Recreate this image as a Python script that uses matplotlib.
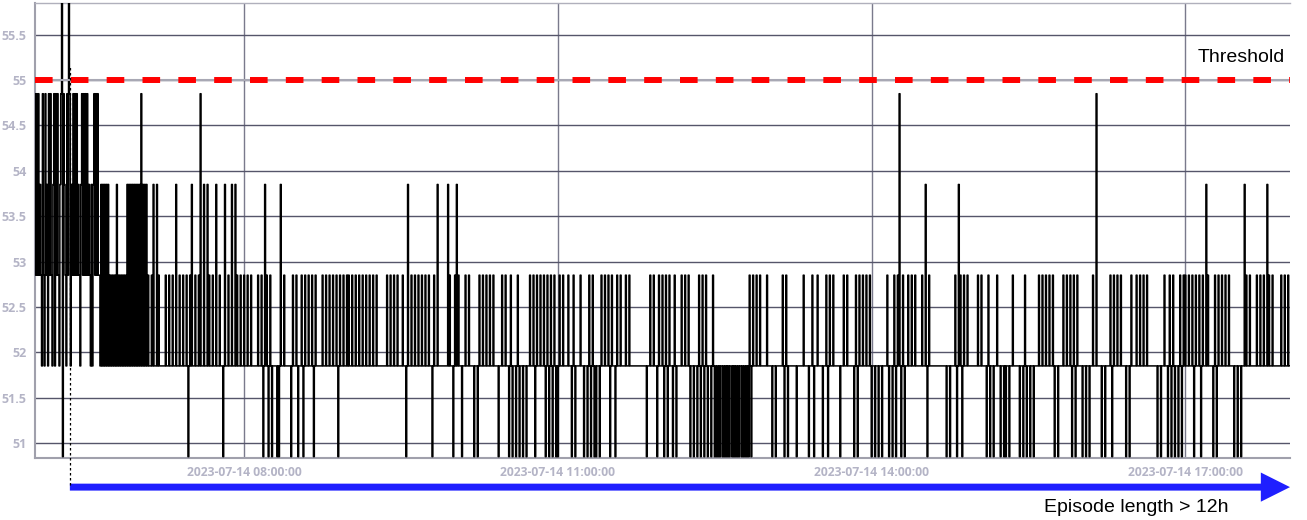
import datetime as dt
import matplotlib
matplotlib.use('Agg')
import matplotlib.pyplot as plt
import matplotlib.dates as mdates
import matplotlib.transforms as mtransforms
from matplotlib.patches import FancyArrowPatch, ArrowStyle

# sensor levels seen on the chart
levels = [50.85, 51.85, 52.85, 53.85, 54.85, 55.85]

# one row per hour starting 06:00, each char = level index (30 s steps)
hourly_levels = [
    # 06
    "424242" "32" "142142" "31" "4242" "13" "414242" "13" "4504" "32" "142541" "32"
    "424242" "3213" "42424242" "321313" "424242"
    "2131313131312121" "2121312121212121" "31313131313131",
    # 07
    "3141313131" "2111213111" "31211111112111211121" "11311121112111210121"
    "31112111214111311131" "21112111311121110131" "11211131113121112111",
    # 08
    "21112111211111112111" "21013121012101111101" "01311121111111012111"
    "21011121012111211121" "01211111112111211121" "11211121012111211121",
    # 09
    "21112111211121112111" "21112111211121111111" "11112111211121112111"
    "11211101311121112111" "21112111211121110121" "11311111111111312111",
    # 10
    "01213121110111211121" "11110111012111211121" "11211121111101112111"
    "21110121011101210111" "01110111211121012111" "21112101210121012101",
    # 11
    "01211121111121110121" "01111121110111012101" "21010111012111211121"
    "01211101211121111121" "11211111111111111111" "11011121112111012111",
    # 12
    "21012101211101210111" "11211121112101110111" "01210121012101110121"
    "0101010110" "1010101011" "0101010101" "1010101010" "21012111211121111111",
    # 13
    "21111101110111111121" "01210111111111011111" "11211111011121011121"
    "11110111210121112111" "11110111211121111111" "01210121112111211121",
    # 14
    "01110111011101111121" "01110121012141012101" "11211121112111111121"
    "11310121111111111111" "11111101110111112101" "31210121112111111111",
    # 15
    "11211121111101210111" "01112111011101011101" "11211111110111012101"
    "11011101111121112111" "21112111210111011111" "21112111210121012111",
    # 16
    "11011101110111211141" "11110111011111210121" "11211121111101110121"
    "11112111211121112111" "11111111011101112111" "01210121011101210121",
    # 17
    "21112111210121112101" "21113121111101210121" "11211121112111110111"
    "01110111312111211111" "11211121112111312111" "21111111112111211121",
]

day = dt.datetime(2023, 7, 14)
first_hour = 6
x_start = dt.datetime(2023, 7, 14, 6, 0)
x_end = dt.datetime(2023, 7, 14, 18, 0)
tick_hours = [8, 11, 14, 17]
y_ticks = [51, 51.5, 52, 52.5, 53, 53.5, 54, 54.5, 55, 55.5]
threshold = 55
episode_start = dt.datetime(2023, 7, 14, 6, 20)

times = []
values = []
for h, row in enumerate(hourly_levels):
    step = 60.0 / len(row)
    for j, c in enumerate(row):
        times.append(day + dt.timedelta(hours=first_hour + h, minutes=j * step))
        values.append(levels[int(c)])

W, H = 1307, 520
fig = plt.figure(figsize=(W / 100, H / 100), dpi=100)
ax = fig.add_axes([35 / W, 62 / H, 1255 / W, 455 / H])

ax.plot(times, values, color='black', lw=1.1, drawstyle='steps-mid', zorder=3)

ax.set_xlim(x_start, x_end)
ax.set_ylim(50.835, 55.85)
ax.set_yticks(y_ticks)
ax.set_yticklabels(['{:g}'.format(v) for v in y_ticks])
ax.set_xticks([day + dt.timedelta(hours=h) for h in tick_hours])
ax.xaxis.set_major_formatter(mdates.DateFormatter('%Y-%m-%d %H:%M:%S'))

ax.set_axisbelow(True)
ax.grid(axis='y', color='#55556a', lw=1.0)
ax.grid(axis='x', color='#7a7a8c', lw=1.0)

ax.tick_params(length=0, labelcolor='#b4b4c6')
ax.tick_params(axis='y', pad=6)
ax.tick_params(axis='x', pad=6)
for lab in ax.get_yticklabels():
    lab.set_fontfamily('Open Sans')
    lab.set_fontweight('bold')
    lab.set_fontsize(9)
for lab in ax.get_xticklabels():
    lab.set_fontfamily('Open Sans')
    lab.set_fontweight('bold')
    lab.set_fontsize(8.7)

ax.spines['right'].set_visible(False)
for side in ['left', 'bottom']:
    ax.spines[side].set_color('#a0a0ac')
    ax.spines[side].set_linewidth(1.5)
ax.spines['top'].set_color('#b0b0bc')
ax.spines['top'].set_linewidth(1.0)

# threshold line
ax.axhline(threshold, color='#a8a8b4', lw=1.5, zorder=4)
ax.axhline(threshold, color='#ff0000', lw=4.3, dashes=(2.95, 3.05), zorder=5)
ax.text(0.996, threshold + 0.25, 'Threshold',
        transform=mtransforms.blended_transform_factory(ax.transAxes, ax.transData),
        ha='right', va='center', fontsize=14, family='Liberation Sans')

# episode marker and arrow
ax.axvline(episode_start, ymin=-0.059, ymax=0.864, color='black', lw=0.9,
           ls=(0, (2, 2)), clip_on=False, zorder=6)
trans = mtransforms.blended_transform_factory(ax.transData, ax.transAxes)
arrow = FancyArrowPatch((mdates.date2num(episode_start), -0.064),
                        (mdates.date2num(x_end), -0.064),
                        transform=trans,
                        arrowstyle=ArrowStyle.Simple(head_length=2.1, head_width=2.1, tail_width=0.5),
                        mutation_scale=10, color='#1f1fff', lw=0,
                        shrinkA=0, shrinkB=0, clip_on=False)
ax.add_patch(arrow)
ax.text(0.9506, -0.108, 'Episode length > 12h', transform=ax.transAxes,
        ha='right', va='center', fontsize=14, family='Liberation Sans')

fig.savefig('out.png', dpi=100)
